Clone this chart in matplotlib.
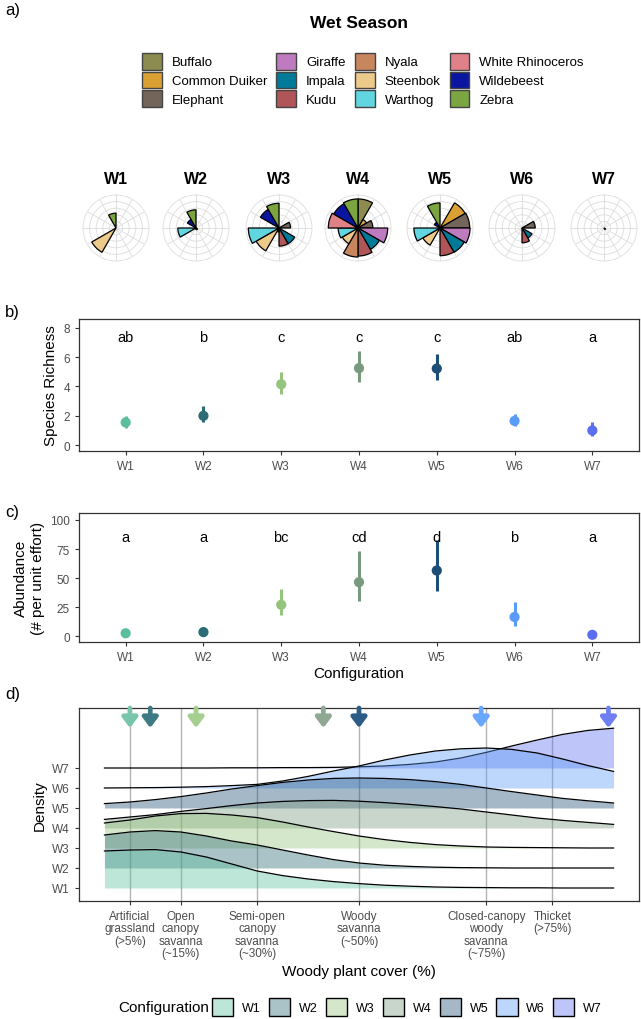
import numpy as np
import matplotlib
matplotlib.use('Agg')
import matplotlib.pyplot as plt
from matplotlib.patches import Patch

plt.rcParams['font.family'] = ['Liberation Sans', 'DejaVu Sans']

# Data
configs = ['W1', 'W2', 'W3', 'W4', 'W5', 'W6', 'W7']
species = ['Buffalo', 'Common Duiker', 'Elephant', 'Giraffe', 'Impala', 'Kudu',
           'Nyala', 'Steenbok', 'Warthog', 'White Rhinoceros', 'Wildebeest', 'Zebra']
species_colors = ['#8c8c50', '#dba033', '#736559', '#bf7bbf', '#007a99', '#b05558',
                  '#c8865f', '#ebca8a', '#62d6e0', '#e08088', '#0a15a0', '#7aa540']

# relative species contribution per configuration (rose plots)
rose_W1 = [0, 0, 0, 0, 0, 0, 0, 0.85, 0, 0, 0, 0.45]
rose_W2 = [0, 0, 0, 0, 0.05, 0.05, 0, 0, 0.55, 0, 0.3, 0.55]
rose_W3 = [0, 0, 0.35, 0, 0.55, 0.55, 0.12, 0.8, 0.93, 0, 0.65, 0.75]
rose_W4 = [0.88, 0.3, 0.45, 0.9, 0.75, 0.85, 0.88, 0.55, 0.6, 0.9, 0.85, 0.88]
rose_W5 = [0, 0.88, 0.9, 0.91, 0.85, 0.84, 0, 0.6, 0.79, 0, 0.2, 0.76]
rose_W6 = [0, 0, 0.4, 0, 0.35, 0.45, 0, 0, 0, 0, 0, 0]
rose_W7 = [0, 0, 0, 0, 0.05, 0, 0, 0, 0, 0, 0, 0]
roses = [rose_W1, rose_W2, rose_W3, rose_W4, rose_W5, rose_W6, rose_W7]

point_colors = ['#5bbf9f', '#2a6b75', '#94c47d', '#7a9a7e', '#1d4e77', '#5b9bf8', '#5b6ef0']

rich_mean = [1.55, 2.0, 4.15, 5.25, 5.22, 1.65, 1.0]
rich_lo = [1.15, 1.55, 3.5, 4.3, 4.45, 1.3, 0.65]
rich_hi = [2.0, 2.65, 5.0, 6.4, 6.2, 2.15, 1.55]
rich_letters = ['ab', 'b', 'c', 'c', 'c', 'ab', 'a']

abund_mean = [2.5, 3.5, 27.0, 46.5, 56.5, 16.5, 1.2]
abund_lo = [1.5, 2.5, 18.0, 30.0, 39.0, 9.0, 0.3]
abund_hi = [3.5, 4.5, 41.0, 73.0, 83.0, 29.5, 2.5]
abund_letters = ['a', 'a', 'bc', 'cd', 'd', 'b', 'a']

# density ridges: woody cover (%) and ridge heights above each baseline
cover = [0, 5, 10, 15, 20, 25, 30, 35, 40, 45, 50, 55, 60, 65, 70, 75, 80, 85, 90, 95, 100]
dens_W1 = [1.85, 1.9, 1.92, 1.8, 1.55, 1.2, 0.85, 0.62, 0.45, 0.32, 0.22, 0.14, 0.09,
           0.05, 0.03, 0.02, 0.01, 0.01, 0.0, 0.0, 0.0]
dens_W2 = [1.65, 1.8, 1.87, 1.8, 1.6, 1.35, 1.15, 0.9, 0.65, 0.42, 0.25, 0.14, 0.08,
           0.04, 0.02, 0.01, 0.0, 0.0, 0.0, 0.0, 0.0]
dens_W3 = [1.25, 1.4, 1.6, 1.72, 1.73, 1.65, 1.52, 1.3, 1.05, 0.82, 0.6, 0.42, 0.28,
           0.17, 0.1, 0.05, 0.03, 0.02, 0.01, 0.0, 0.0]
dens_W4 = [0.43, 0.55, 0.67, 0.83, 0.97, 1.12, 1.25, 1.33, 1.37, 1.38, 1.34, 1.27, 1.18,
           1.07, 0.95, 0.8, 0.65, 0.5, 0.38, 0.28, 0.18]
dens_W5 = [0.22, 0.3, 0.42, 0.57, 0.75, 0.95, 1.12, 1.28, 1.4, 1.48, 1.5, 1.48, 1.42,
           1.32, 1.18, 1.0, 0.82, 0.65, 0.48, 0.36, 0.25]
dens_W6 = [0.0, 0.01, 0.02, 0.04, 0.07, 0.12, 0.18, 0.35, 0.58, 0.85, 1.1, 1.4, 1.65,
           1.85, 1.96, 2.0, 1.93, 1.75, 1.45, 1.12, 0.83]
dens_W7 = [0.0, 0.0, 0.0, 0.0, 0.0, 0.01, 0.01, 0.02, 0.02, 0.03, 0.06, 0.1, 0.18,
           0.3, 0.5, 0.78, 1.1, 1.4, 1.68, 1.88, 1.99]
dens = [dens_W1, dens_W2, dens_W3, dens_W4, dens_W5, dens_W6, dens_W7]
fill_alpha = 0.4

mean_cover = [5, 9, 18, 43, 50, 74, 99]
arrow_colors = ['#79c4ac', '#3e7a84', '#a5cf90', '#8fa892', '#2b5c86', '#6aa7ff', '#6f7ff2']

cover_ticks = [5, 15, 30, 50, 75, 88]
cover_labels = ['Artificial\ngrassland\n(>5%)', 'Open\ncanopy\nsavanna\n(~15%)',
                'Semi-open\ncanopy\nsavanna\n(~30%)', 'Woody\nsavanna\n(~50%)',
                'Closed-canopy\nwoody\nsavanna\n(~75%)', 'Thicket\n(>75%)']

# Layout helpers (pixels)
W, H = 641, 1020


def rect(l, t, r, b):
    return [l / W, 1 - b / H, (r - l) / W, (b - t) / H]


fig = plt.figure(figsize=(W / 100, H / 100), dpi=100)

tick_gray = '#4d4d4d'
frame_col = '#333333'


def style_box(ax):
    for s in ax.spines.values():
        s.set_color(frame_col)
        s.set_linewidth(0.9)
    ax.tick_params(colors=frame_col, labelcolor=tick_gray, labelsize=8.5, length=3, width=0.8)


# Panel a
fig.text(5 / W, 1 - 10 / H, 'a)', fontsize=12, va='center', ha='left')
fig.text(359 / W, 1 - 24 / H, 'Wet Season', fontsize=12.5, fontweight='bold', ha='center', va='center')
handles = [Patch(facecolor=c, edgecolor='#444444', linewidth=1) for c in species_colors]
fig.legend(handles, species, ncol=4, loc='center', bbox_to_anchor=(363 / W, 1 - 81 / H),
           frameon=False, fontsize=9.5, handlelength=1.5, handleheight=1.6,
           handletextpad=0.75, columnspacing=0.7, labelspacing=0.15, borderpad=0)

rose_x = [116, 196, 279, 358, 440, 522, 604]
rose_y = 229
rad = 33
theta = np.deg2rad(np.arange(12) * 30 + 15)
for i, cfg in enumerate(configs):
    pax = fig.add_axes(rect(rose_x[i] - rad, rose_y - rad, rose_x[i] + rad, rose_y + rad),
                       projection='polar')
    pax.set_theta_zero_location('N')
    pax.set_theta_direction(-1)
    pax.bar(theta, roses[i], width=np.deg2rad(30), color=species_colors,
            edgecolor='black', linewidth=0.9, zorder=3)
    pax.set_ylim(0, 1)
    pax.set_rgrids([0.2, 0.4, 0.6, 0.8], labels=[])
    pax.set_thetagrids(np.arange(0, 360, 30), labels=[])
    pax.grid(color='#dcdcdc', linewidth=0.6)
    pax.spines['polar'].set_color('#dcdcdc')
    pax.spines['polar'].set_linewidth(0.6)
    pax.tick_params(length=0)
    fig.text(rose_x[i] / W, 1 - 179 / H, cfg, fontsize=11.5, fontweight='bold',
             ha='center', va='center')

# Panel b
pos = np.arange(1, 8)
axb = fig.add_axes(rect(79, 320, 639, 452))
axb.vlines(pos, rich_lo, rich_hi, colors=point_colors, linewidth=2.2)
axb.scatter(pos, rich_mean, s=40, c=point_colors, zorder=3)
for p, t in zip(pos, rich_letters):
    axb.text(p, 7.4, t, ha='center', va='center', fontsize=10.5)
axb.set_xlim(0.4, 7.6)
axb.set_ylim(-0.4, 8.6)
axb.set_xticks(pos)
axb.set_xticklabels(configs)
axb.set_yticks([0, 2, 4, 6, 8])
axb.set_ylabel('Species Richness', fontsize=11, labelpad=4)
style_box(axb)
fig.text(5 / W, 1 - 313 / H, 'b)', fontsize=12, va='center', ha='left')

# Panel c
axc = fig.add_axes(rect(79, 514, 639, 643))
axc.vlines(pos, abund_lo, abund_hi, colors=point_colors, linewidth=2.2)
axc.scatter(pos, abund_mean, s=40, c=point_colors, zorder=3)
for p, t in zip(pos, abund_letters):
    axc.text(p, 85, t, ha='center', va='center', fontsize=10.5)
axc.set_xlim(0.4, 7.6)
axc.set_ylim(-5, 106)
axc.set_xticks(pos)
axc.set_xticklabels(configs)
axc.set_yticks([0, 25, 50, 75, 100])
axc.set_ylabel('Abundance\n(# per unit effort)', fontsize=11, labelpad=4)
axc.set_xlabel('Configuration', fontsize=11, labelpad=2)
style_box(axc)
fig.text(5 / W, 1 - 513 / H, 'c)', fontsize=12, va='center', ha='left')

# Panel d
axd = fig.add_axes(rect(79, 709, 639, 902))
for t in cover_ticks:
    axd.axvline(t, color='#b3b3b3', linewidth=1.0, zorder=0)
for i in range(6, -1, -1):
    base = i + 1
    top = base + np.array(dens[i])
    axd.fill_between(cover, base, top, color=point_colors[i], alpha=fill_alpha,
                     linewidth=0, zorder=1 + (6 - i))
    axd.plot(cover, top, color='black', linewidth=0.9, zorder=1.5 + (6 - i))
for i in range(7):
    axd.annotate('', xy=(mean_cover[i], 9.0), xytext=(mean_cover[i], 10.0),
                 arrowprops=dict(arrowstyle='-|>,head_width=0.45,head_length=0.6',
                                 color=arrow_colors[i], lw=3.4, shrinkA=0, shrinkB=0),
                 zorder=20)
axd.set_xlim(-5, 105)
axd.set_ylim(0.35, 10.0)
axd.set_yticks(pos)
axd.set_yticklabels(configs)
axd.set_xticks(cover_ticks)
axd.set_xticklabels(cover_labels, linespacing=1.05)
axd.set_ylabel('Density', fontsize=11, labelpad=4)
axd.set_xlabel('Woody plant cover (%)', fontsize=11, labelpad=3)
style_box(axd)
fig.text(5 / W, 1 - 695 / H, 'd)', fontsize=12, va='center', ha='left')

# bottom legend
cfg_handles = [Patch(facecolor=matplotlib.colors.to_rgba(c, fill_alpha), edgecolor='black', linewidth=1)
               for c in point_colors]
fig.legend(cfg_handles, configs, ncol=7, loc='center', bbox_to_anchor=(407 / W, 1 - 1008 / H),
           frameon=False, fontsize=9, handlelength=1.7, handleheight=1.75,
           handletextpad=0.7, columnspacing=0.65, borderpad=0)
fig.text(209 / W, 1 - 1008 / H, 'Configuration', fontsize=11, ha='right', va='center')

fig.savefig('out.png', dpi=100)
